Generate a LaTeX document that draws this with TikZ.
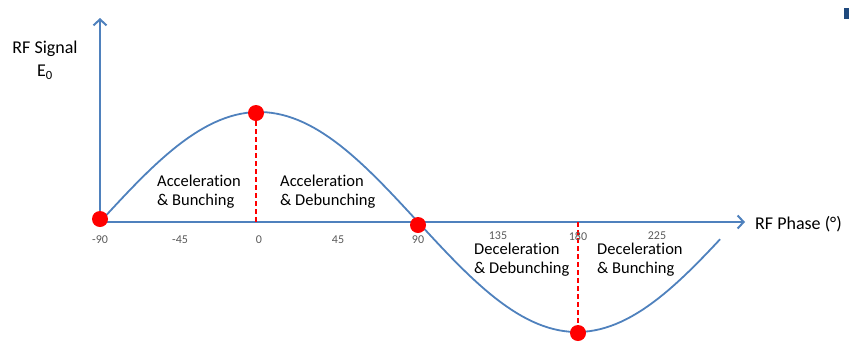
\documentclass[tikz,border=0pt]{standalone}
\usepackage{fontspec}
\setmainfont[Ligatures=NoCommon]{Carlito}
\usetikzlibrary{arrows.meta}
\definecolor{axisblue}{RGB}{79,129,189}
\definecolor{darkblue}{RGB}{31,73,125}
\definecolor{ticklbl}{RGB}{90,90,90}
\tikzset{
  axisline/.style={draw=axisblue,line width=2pt,-{Straight Barb[length=6pt,width=13pt,line width=2pt]}},
  wave/.style={draw=axisblue,line width=1.8pt},
  reddot/.style={circle,fill=red,minimum size=16pt,inner sep=0pt},
  reddash/.style={draw=red,line width=1.8pt,dash pattern=on 5pt off 3pt},
  ticklabel/.style={font=\fontsize{12}{13}\selectfont,text=ticklbl,anchor=center,inner sep=0pt},
  region/.style={font=\fontsize{16.5}{19}\selectfont,align=left,anchor=west,inner sep=0pt},
  biglabel/.style={font=\fontsize{18}{23}\selectfont,align=center,inner sep=0pt}
}
\begin{document}
\begin{tikzpicture}[x=1pt,y=-1pt]
\useasboundingbox (0,0) rectangle (849,341);
% axes
\coordinate (origin) at (100,222);
\coordinate (ytip) at (100,18);
\coordinate (xtip) at (745,222);
\draw[axisline] (origin) -- (ytip);
\draw[axisline] (origin) -- (xtip);
% wave
\draw[wave] plot[domain=-90:261,samples=120] ({100+(\x+90)*1.7667},{222-110*cos(\x)});
% red dashed lines
\coordinate (p2) at (256,113);
\coordinate (p4) at (578,333);
\coordinate (b2) at (256,222);
\coordinate (b4) at (578,222);
\draw[reddash] (p2) -- (b2);
\draw[reddash] (b4) -- (p4);
% dots
\node[reddot] (d1) at (100,219) {};
\node[reddot] (d2) at (p2) {};
\node[reddot] (d3) at (418,225) {};
\node[reddot] (d4) at (p4) {};
% tick labels
\node[ticklabel] (t1) at (100,240) {-90};
\node[ticklabel] (t2) at (180,240) {-45};
\node[ticklabel] (t3) at (259,240) {0};
\node[ticklabel] (t4) at (338,240) {45};
\node[ticklabel] (t5) at (418,240) {90};
\node[ticklabel] (t6) at (498,236) {135};
\node[ticklabel] (t7) at (578,236) {180};
\node[ticklabel] (t8) at (657,236) {225};
% region labels
\node[region] (r1) at (157,192) {Acceleration\\\& Bunching};
\node[region] (r2) at (280,192) {Acceleration\\\& Debunching};
\node[region] (r3) at (474,260) {Deceleration\\\& Debunching};
\node[region] (r4) at (597,260) {Deceleration\\\& Bunching};
% axis labels
\node[biglabel] (yl) at (45,60) {RF Signal\\E\textsubscript{0}};
\node[biglabel,anchor=west] (xl) at (755,224) {RF Phase (°)};
% corner mark
\fill[darkblue] (844,8) rectangle (849,19);
\end{tikzpicture}
\end{document}
